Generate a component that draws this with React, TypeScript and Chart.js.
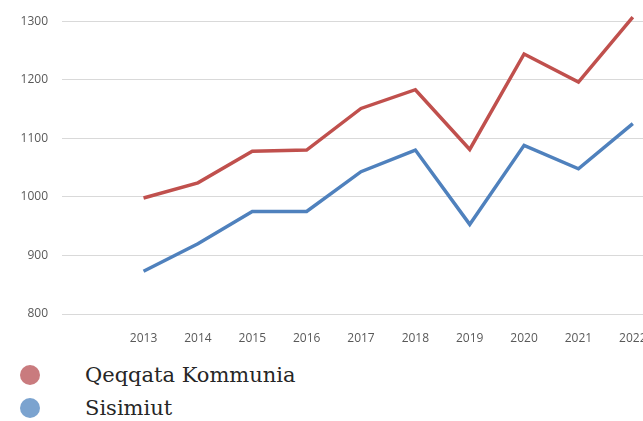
import React, { useEffect, useRef } from "react";
import { Chart, registerables } from "chart.js";

Chart.register(...registerables);

const categories = ["", "2013", "2014", "2015", "2016", "2017", "2018", "2019", "2020", "2021", "2022"];
const qeqqata = [null, 998, 1024, 1078, 1080, 1151, 1183, 1081, 1244, 1196, 1307];
const sisimiut = [null, 873, 920, 975, 975, 1043, 1080, 953, 1088, 1048, 1125];
const seriesNames = ["Qeqqata Kommunia", "Sisimiut"];
const lineColors = ["#C0504D", "#4F81BD"];
const legendColors = ["#C97B7E", "#7BA3CF"];

export default function App() {
  const ref = useRef<HTMLCanvasElement | null>(null);
  useEffect(() => {
    if (!ref.current) return;
    const chart = new Chart(ref.current, {
      type: "line",
      data: {
        labels: categories,
        datasets: [
          { label: seriesNames[0], data: qeqqata, borderColor: lineColors[0], borderWidth: 3.5, pointRadius: 0, clip: false, tension: 0 },
          { label: seriesNames[1], data: sisimiut, borderColor: lineColors[1], borderWidth: 3.5, pointRadius: 0, clip: false, tension: 0 },
        ],
      },
      options: {
        animation: false,
        responsive: false,
        layout: { padding: { top: 19, right: 20, left: 0, bottom: 0 } },
        plugins: { legend: { display: false }, tooltip: { enabled: false } },
        scales: {
          x: {
            offset: true,
            grid: { display: false },
            border: { display: false },
            ticks: { color: "#595959", font: { family: "Open Sans", size: 12 }, padding: 9, maxRotation: 0, autoSkip: false },
            afterFit: (s: any) => { s.height = 31; },
          },
          y: {
            min: 800,
            max: 1300,
            grid: { color: "#D9D9D9", lineWidth: 1, drawTicks: false },
            border: { display: false },
            ticks: { stepSize: 100, color: "#595959", font: { family: "Open Sans", size: 12 }, padding: 14, callback: (v: any) => String(v) },
            afterFit: (s: any) => { s.width = 62; },
          },
        },
      },
    });
    return () => chart.destroy();
  }, []);

  return (
    <div style={{ position: "absolute", left: 0, top: 0, width: 643, height: 421, overflow: "hidden", background: "#fff" }}>
      <canvas ref={ref} width={680} height={345} style={{ position: "absolute", left: 0, top: 0 }} />
      {seriesNames.map((n, i) => (
        <div key={n} style={{ position: "absolute", left: 20, top: 363 + i * 33, height: 24, display: "flex", alignItems: "center" }}>
          <div style={{ width: 20, height: 20, borderRadius: 10, background: legendColors[i] }} />
          <span style={{ marginLeft: 45, fontFamily: "'DejaVu Serif', serif", fontSize: 21, color: "#262626", lineHeight: "24px" }}>{n}</span>
        </div>
      ))}
    </div>
  );
}
